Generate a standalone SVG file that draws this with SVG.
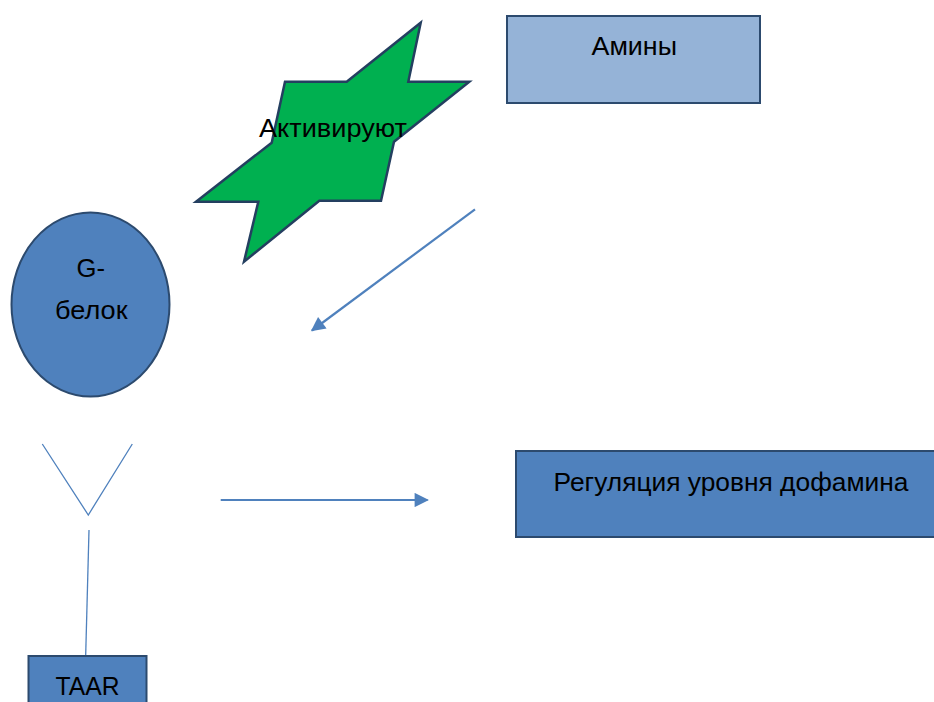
<svg xmlns="http://www.w3.org/2000/svg" width="934" height="702" viewBox="0 0 934 702">
  <style>
    .lbl { font-family: "Liberation Sans", Arial, sans-serif; font-size: 26px; fill: #000; }
    .box { fill: #4F81BD; stroke: #2C4A6E; stroke-width: 2; }
    .link { stroke: #4F81BD; fill: none; }
  </style>
  <defs>
    <marker id="arrow" viewBox="0 0 10 10" refX="9" refY="5" markerWidth="7" markerHeight="6.5" markerUnits="strokeWidth" orient="auto">
      <path d="M0,0 L10,5 L0,10 z" fill="#4F81BD"/>
    </marker>
  </defs>

  <rect width="934" height="702" fill="#fff"/>

  <!-- activation burst -->
  <g id="activate">
    <polygon points="420.7,22.7 408.3,81.7 469.3,81.7 394,141.7 381,200.7 319.3,200.7 244,261.7 258.3,201.7 196,201.7 271.7,142.7 285,81.7 346.7,81.7"
             fill="#00B050" stroke="#243F60" stroke-width="2.5" stroke-linejoin="miter"/>
    <text class="lbl" x="259" y="137" textLength="148" lengthAdjust="spacingAndGlyphs">Активируют</text>
  </g>

  <!-- amines -->
  <g id="amines">
    <rect x="507" y="16" width="253" height="87" fill="#95B3D7" stroke="#2C4A6E" stroke-width="2"/>
    <text class="lbl" x="591.5" y="55.3" textLength="85.5" lengthAdjust="spacingAndGlyphs">Амины</text>
  </g>

  <!-- G protein -->
  <g id="g-protein">
    <ellipse cx="90.5" cy="304.5" rx="79" ry="92" fill="#4F81BD" stroke="#2C4A6E" stroke-width="2"/>
    <text class="lbl" x="76.5" y="277" textLength="28.5" lengthAdjust="spacingAndGlyphs">G-</text>
    <text class="lbl" x="55" y="318.5" textLength="72.5" lengthAdjust="spacingAndGlyphs">белок</text>
  </g>

  <!-- dopamine regulation -->
  <g id="dopamine">
    <rect x="516" y="451" width="430" height="86" class="box"/>
    <text class="lbl" x="553.5" y="491" textLength="355" lengthAdjust="spacingAndGlyphs">Регуляция уровня дофамина</text>
  </g>

  <!-- TAAR receptor -->
  <g id="taar">
    <rect x="28.5" y="656" width="118" height="60" class="box"/>
    <text class="lbl" x="55.5" y="695.3" textLength="64" lengthAdjust="spacingAndGlyphs">TAAR</text>
  </g>

  <!-- connectors -->
  <g id="connectors">
    <polyline class="link" stroke-width="1.3" points="42.3,444 88.3,515 132.3,444"/>
    <line class="link" stroke-width="1.3" x1="89" y1="530" x2="85.7" y2="655"/>
    <line class="link" stroke-width="2.2" x1="220.7" y1="500" x2="427.5" y2="500" marker-end="url(#arrow)"/>
    <line class="link" stroke-width="2.2" x1="475" y1="209.3" x2="312" y2="330.5" marker-end="url(#arrow)"/>
  </g>
</svg>
